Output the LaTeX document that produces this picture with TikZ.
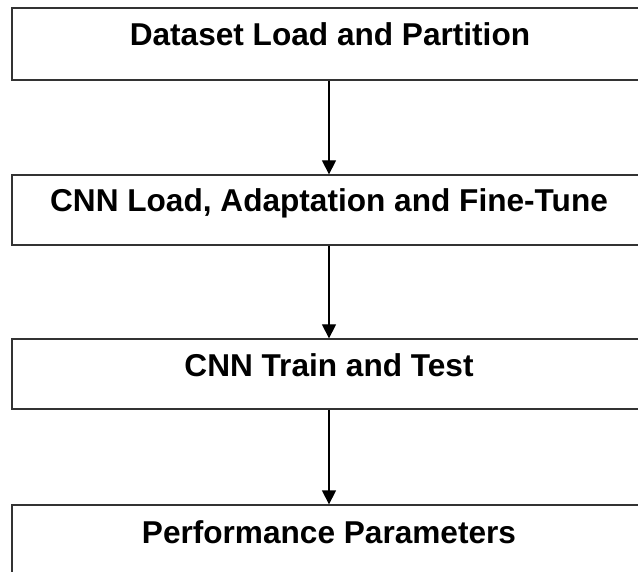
\documentclass[tikz,border=0pt]{standalone}
\usepackage{fontspec}
\setmainfont{Liberation Sans}
\usetikzlibrary{arrows.meta}
\begin{document}
\begin{tikzpicture}[x=1pt,y=-1pt,
  stagebox/.style={draw=black!80,line width=1.3pt,rectangle,minimum width=634pt,inner sep=0pt},
  stagetext/.style={anchor=base,inner sep=0pt,font=\fontsize{31.6}{37}\selectfont\bfseries},
  flow/.style={draw=black,line width=1.3pt,-{Triangle[width=14pt,length=14pt]}}]
  \useasboundingbox (0,0) rectangle (638,572);
  \clip (0,0) rectangle (638,572);
  % stage frames
  \node[stagebox,minimum height=72pt] (b1) at (329,44) {};
  \node[stagebox,minimum height=70pt] (b2) at (329,210) {};
  \node[stagebox,minimum height=70pt] (b3) at (329,374) {};
  \node[stagebox,minimum height=70pt] (b4) at (329,540) {};
  % stage captions
  \node[stagetext] (t1) at (330,46) {Dataset Load and Partition};
  \node[stagetext] (t2) at (329,212) {CNN Load, Adaptation and Fine-Tune};
  \node[stagetext] (t3) at (329,377) {CNN Train and Test};
  \node[stagetext] (t4) at (329,543) {Performance Parameters};
  % flow between stages
  \draw[flow] (b1.south) -- (b2.north);
  \draw[flow] (b2.south) -- (b3.north);
  \draw[flow] (b3.south) -- (b4.north);
\end{tikzpicture}
\end{document}
